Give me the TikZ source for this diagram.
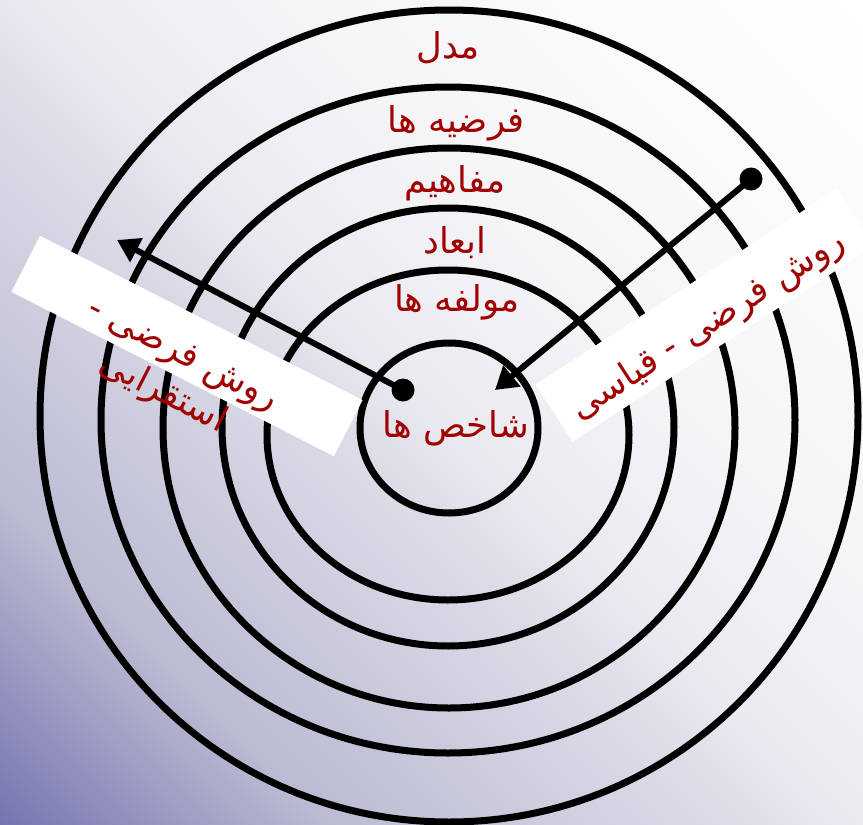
\documentclass[tikz,border=0pt]{standalone}
\usepackage{fontspec}
\usepackage{tikz}
\usetikzlibrary{arrows.meta}
\TeXXeTstate=1
\newfontfamily\arabicfont[Script=Arabic]{DejaVu Sans}
\definecolor{labelred}{RGB}{160,0,0}
\pgfdeclarehorizontalshading{bgfade}{100bp}{
  color(0bp)=(rgb,255:red,118;green,116;blue,175);
  color(25bp)=(rgb,255:red,118;green,116;blue,175);
  color(34.6bp)=(rgb,255:red,186;green,186;blue,210);
  color(47.4bp)=(rgb,255:red,222;green,222;blue,233);
  color(50bp)=(rgb,255:red,233;green,233;blue,240);
  color(58bp)=(rgb,255:red,245;green,245;blue,248);
  color(75bp)=(white);
  color(100bp)=(white)}

\begin{document}
\begin{tikzpicture}[x=1pt, y=-1pt, >={Triangle[length=22pt, width=26pt]},
    ring/.style={draw, line width=7pt},
    ringtext/.style={text=labelred, font=\arabicfont\fontsize{35.5}{43}\selectfont, align=center},
    whitebox/.style={fill=white, inner sep=0pt},
    startdot/.style={circle, fill=black, minimum size=23pt, inner sep=0pt}]
    \useasboundingbox (0,0) rectangle (863,825);
    \clip (0,0) rectangle (863,825);
    % background, fading along the diagonal
    \begin{scope}[transform canvas={rotate=45}]
      \shade[shading=bgfade] (-583.4,0) rectangle (610.2,1193.6);
    \end{scope}
    % rings, outer to inner
    \draw[ring] (449,416) ellipse [x radius=409, y radius=406];
    \draw[ring] (448,420) ellipse [x radius=347, y radius=333];
    \draw[ring] (449,428) ellipse [x radius=286, y radius=280];
    \draw[ring] (448,427) ellipse [x radius=226, y radius=219];
    \draw[ring] (448,435) ellipse [x radius=181, y radius=165];
    \draw[ring] (449,428) ellipse [x radius=89, y radius=85];
    % the two method bands
    \node[whitebox, minimum width=362pt, minimum height=63pt, rotate=-27] (indBox) at (187,346) {};
    \node[whitebox, minimum width=360pt, minimum height=68pt, rotate=33] (dedBox) at (705,315) {};
    % arrows
    \node[startdot] (indDot) at (403,390) {};
    \coordinate (indTip) at (117,240);
    \node[startdot] (dedDot) at (751,179) {};
    \coordinate (dedTip) at (495,390);
    \draw[->, line width=6pt] (indDot.center) -- (indTip);
    \draw[->, line width=6pt] (dedDot.center) -- (dedTip);
    % labels
    \node[ringtext] (model) at (448,48) {\beginR مدل\endR};
    \node[ringtext] (hypo) at (456,123) {\beginR فرضیه ها\endR};
    \node[ringtext] (concepts) at (455,183) {\beginR مفاهیم\endR};
    \node[ringtext] (dims) at (455,243) {\beginR ابعاد\endR};
    \node[ringtext] (comps) at (457,302) {\beginR مولفه ها\endR};
    \node[ringtext] (indic) at (456,428) {\beginR شاخص ها\endR};
    \node[ringtext, rotate=-27] (indText) at (172,376) {\beginR روش فرضی -\endR\\\beginR استقرایی\endR};
    \node[ringtext, rotate=33] (dedText) at (708,326) {\beginR روش فرضی - قیاسی\endR};
\end{tikzpicture}
\end{document}
